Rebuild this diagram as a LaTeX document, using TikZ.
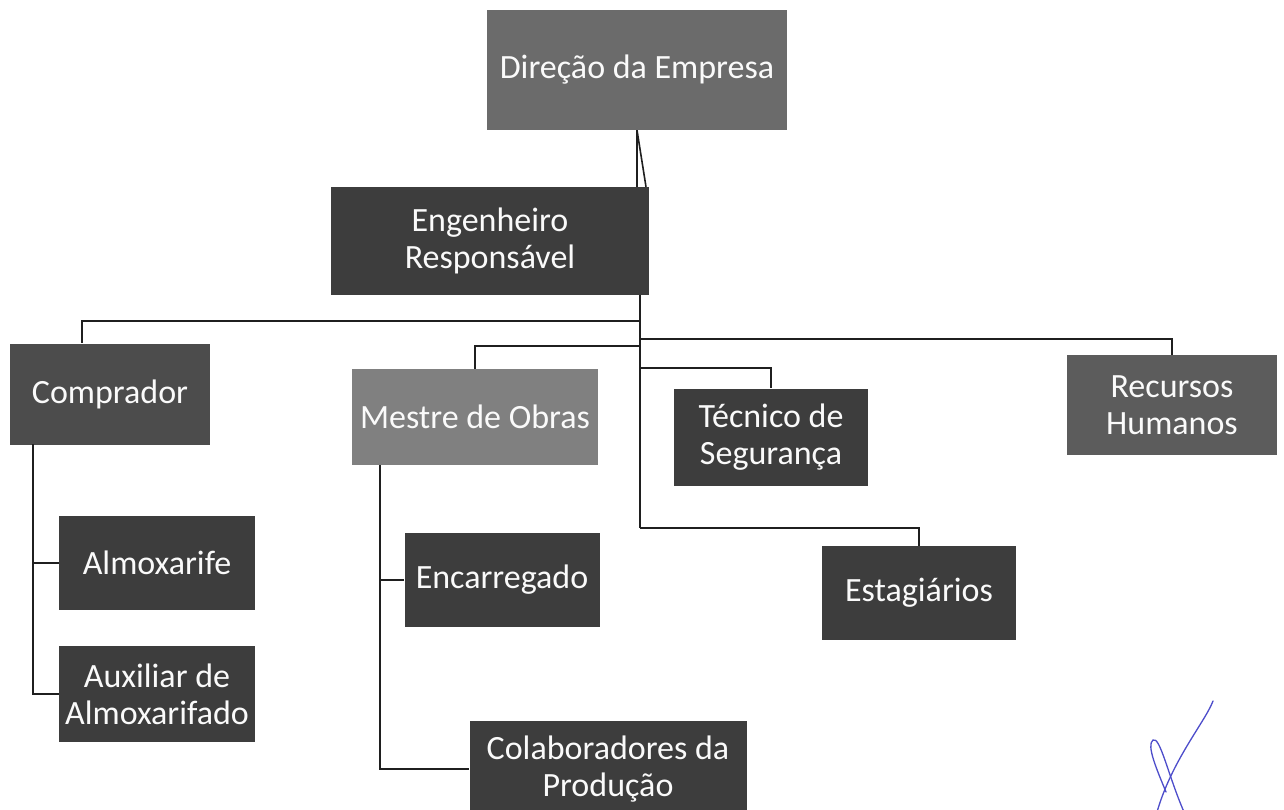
\documentclass[tikz,border=0pt]{standalone}
\usepackage{fontspec}
\setmainfont{Carlito}
\begin{document}
\begin{tikzpicture}[x=1pt,y=-1pt,
  box/.style={draw=none, rectangle, inner sep=0pt, align=center, text=white!96!gray,
    font=\fontsize{34}{37}\selectfont},
  dark/.style={box, fill=black!76},
  mid/.style={box, fill=black!58},
  light/.style={box, fill=black!50},
  wire/.style={line width=2pt, draw=black!88},
  sig/.style={line width=1.3pt, draw=blue!55!gray!90, line cap=round}]
\useasboundingbox (0,0) rectangle (1284,810);
\fill[white] (0,0) rectangle (1284,810);

% boxes
\node[mid, minimum width=300, minimum height=120] (dir) at (637,70) {Direção da Empresa};
\node[dark, minimum width=318, minimum height=108] (eng) at (490,241) {Engenheiro\\Responsável};
\node[box, fill=black!70, minimum width=200, minimum height=101] (comp) at (110,394) {Comprador};
\node[light, minimum width=246, minimum height=96] (mestre) at (475,417) {Mestre de Obras};
\node[dark, minimum width=194, minimum height=97] (tec) at (771,437) {Técnico de\\Segurança};
\node[box, fill=black!64, minimum width=210, minimum height=100] (rh) at (1172,405) {Recursos\\Humanos};
\node[dark, minimum width=196, minimum height=94] (almox) at (157,563) {Almoxarife};
\node[dark, minimum width=196, minimum height=96] (aux) at (157,694) {Auxiliar de\\Almoxarifado};
\node[dark, minimum width=195, minimum height=94] (enc) at (502,580) {Encarregado};
\node[dark, minimum width=194, minimum height=94] (est) at (919,593) {Estagiários};
\node[dark, minimum width=277, minimum height=97] (colab) at (608,769) {Colaboradores da\\Produção};

% junction coordinates
\coordinate (tr) at (640,321);
\coordinate (trm) at (640,346);
\coordinate (trr) at (640,339);
\coordinate (trt) at (640,368);
\coordinate (tre) at (640,528);
\coordinate (cx) at (82,321);
\coordinate (cl) at (33,444);
\coordinate (ml) at (380,465);

% Direção -> Engenheiro
\draw[wire, line width=1.6pt] (dir.south) -- (dir.south |- eng.north);
\draw[wire, line width=1.6pt] (dir.south) -- ([xshift=9pt]dir.south |- eng.north);

% trunk
\draw[wire] (eng.south -| tr) -- (tre);
\draw[wire] (tr) -- (cx) -- (comp.north -| cx);
\draw[wire] (trm) -| (mestre.north);
\draw[wire] (trr) -| (rh.north);
\draw[wire] (trt) -| (tec.north);
\draw[wire] (tre) -| (est.north);

% Comprador branch
\draw[wire] (cl) -- (cl |- aux.west) -- (aux.west);
\draw[wire] (cl |- almox.west) -- (almox.west);

% Mestre branch
\draw[wire] (ml) -- (ml |- colab.west) -- (colab.west);
\draw[wire] (ml |- enc.west) -- (enc.west);

% handwritten mark
\draw[sig] (1213,701) .. controls (1205,722) and (1172,760) .. (1157,812);
\draw[sig] (1166,792) .. controls (1157,770) and (1146,745) .. (1153,740)
  .. controls (1160,736) and (1168,775) .. (1184,812);
\end{tikzpicture}
\end{document}
